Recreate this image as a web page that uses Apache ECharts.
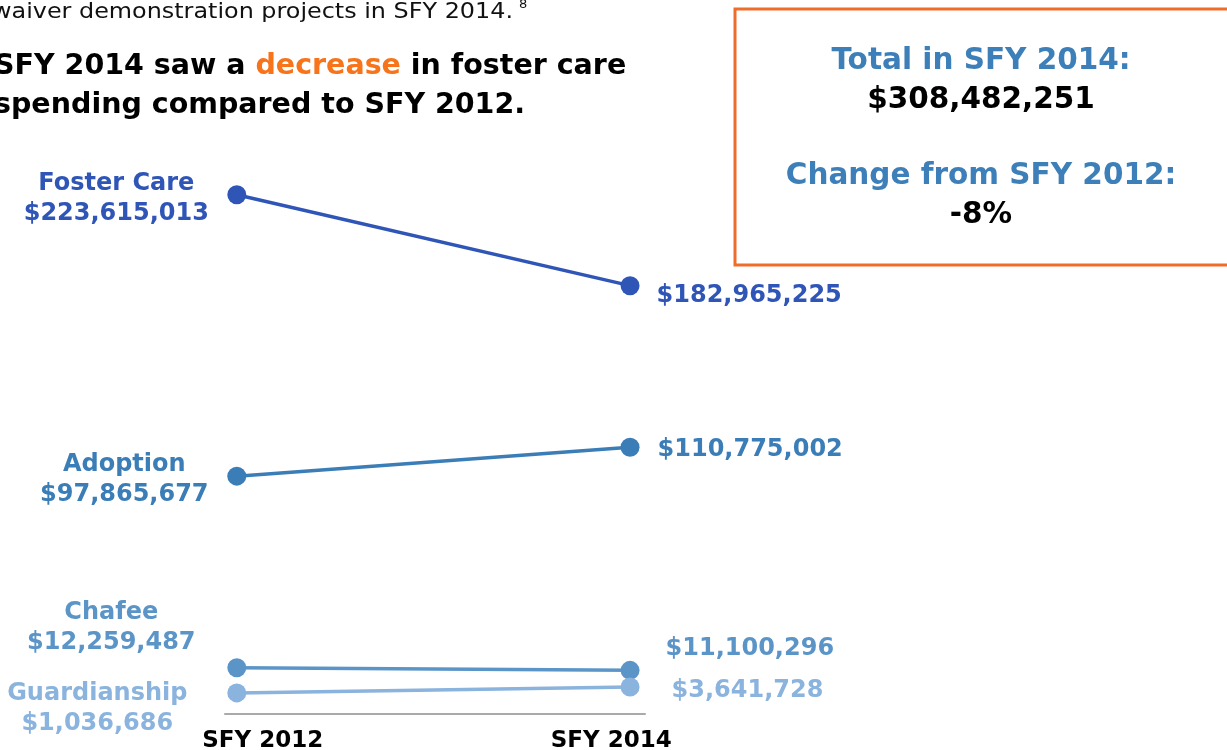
<!DOCTYPE html>
<html>
<head>
<meta charset="utf-8">
<script src="https://cdn.jsdelivr.net/npm/echarts@6/dist/echarts.min.js"></script>
<style>
  html, body { margin: 0; padding: 0; background: #fff; }
  #chart { width: 1227px; height: 750px; }
</style>
</head>
<body>
<div id="chart"></div>
<script>
// spending by program, SFY 2012 vs SFY 2014
var years = ['SFY 2012', 'SFY 2014']
var programs = ['Foster Care', 'Adoption', 'Chafee', 'Guardianship']
var fosterCare = [223615013, 182965225]
var adoption = [97865677, 110775002]
var chafee = [12259487, 11100296]
var guardianship = [1036686, 3641728]
var totalText = '$308,482,251'
var changeText = '-8%'

var colors = ['#2f55b6', '#3b7db6', '#5b95c8', '#8ab3de']
// label tweaks per program: [left distance, left dy, right distance, right dy]
var labelPos = [
    [111, 4, 17, 10],
    [103, 4, 18, 3],
    [116, -40, 26, -22],
    [130, 16, 32, 4]
]

function money(v) {
    return '$' + String(v).replace(/\B(?=(\d{3})+(?!\d))/g, ',')
}

var values = [fosterCare, adoption, chafee, guardianship]
var series = []
values.forEach(function (vals, i) {
    var p = labelPos[i]
    series.push({
        name: programs[i],
        type: 'line',
        symbol: 'circle',
        symbolSize: 19,
        lineStyle: {width: 3.5, color: colors[i]},
        itemStyle: {color: colors[i]},
        emphasis: {disabled: true},
        data: [
            {
                value: [0, vals[0]],
                label: {
                    show: true, position: 'left', distance: p[0], offset: [0, p[1]],
                    align: 'center', verticalAlign: 'middle', lineHeight: 30,
                    formatter: programs[i] + '\n' + money(vals[0])
                }
            },
            {
                value: [1, vals[1]],
                label: {
                    show: true, position: 'right', distance: p[2], offset: [0, p[3]],
                    align: 'left', verticalAlign: 'middle',
                    formatter: money(vals[1])
                }
            }
        ],
        label: {
            color: colors[i],
            fontFamily: 'DejaVu Sans',
            fontWeight: 'bold',
            fontSize: 24
        }
    })
})

var chart = echarts.init(document.getElementById('chart'))
chart.setOption({
    backgroundColor: '#fff',
    animation: false,
    grid: {left: 225, right: 582, top: 158, bottom: 36, outerBoundsMode: 'none'},
    xAxis: {
        type: 'value',
        min: -0.03,
        max: 1.038,
        axisLine: {show: true, onZero: false, lineStyle: {color: '#aaaaaa', width: 2}},
        axisTick: {show: false},
        splitLine: {show: false},
        axisLabel: {
            show: true,
            customValues: [0.066, 0.952],
            margin: 16,
            color: '#000',
            fontFamily: 'DejaVu Sans',
            fontWeight: 'bold',
            fontSize: 23,
            formatter: function (v) {
                return v < 0.5 ? years[0] : years[1]
            }
        }
    },
    yAxis: {
        type: 'value',
        min: -8400000,
        max: 240000000,
        show: false
    },
    graphic: [
        {
            type: 'text', x: -8, y: 12, scaleX: 1.085,
            style: {
                text: 'waiver demonstration projects in SFY 2014.', verticalAlign: 'middle',
                fontFamily: 'DejaVu Sans', fontSize: 22, fill: '#111'
            }
        },
        {
            type: 'text', x: 519, y: 5,
            style: {text: '8', verticalAlign: 'middle', fontFamily: 'DejaVu Sans', fontSize: 13, fill: '#111'}
        },
        {
            type: 'text', left: -6, top: 52,
            style: {
                text: '{b|SFY 2014 saw a }{o|decrease}{b| in foster care}\n{b|spending compared to SFY 2012.}',
                rich: {
                    b: {fontFamily: 'DejaVu Sans', fontWeight: 'bold', fontSize: 28.5, fill: '#000', lineHeight: 39},
                    o: {fontFamily: 'DejaVu Sans', fontWeight: 'bold', fontSize: 28.5, fill: '#f7741b', lineHeight: 39}
                }
            }
        },
        {
            type: 'rect',
            shape: {x: 735, y: 9, width: 520, height: 256},
            style: {fill: '#fff', stroke: '#ef6c2a', lineWidth: 3}
        },
        {
            type: 'text', x: 981, y: 61,
            style: {
                text: 'Total in SFY 2014:', align: 'center', verticalAlign: 'middle',
                fontFamily: 'DejaVu Sans', fontWeight: 'bold', fontSize: 29.5, fill: '#3d7fb8'
            }
        },
        {
            type: 'text', x: 981, y: 100,
            style: {
                text: totalText, align: 'center', verticalAlign: 'middle',
                fontFamily: 'DejaVu Sans', fontWeight: 'bold', fontSize: 29.5, fill: '#000'
            }
        },
        {
            type: 'text', x: 981, y: 176,
            style: {
                text: 'Change from SFY 2012:', align: 'center', verticalAlign: 'middle',
                fontFamily: 'DejaVu Sans', fontWeight: 'bold', fontSize: 29.5, fill: '#3d7fb8'
            }
        },
        {
            type: 'text', x: 981, y: 215,
            style: {
                text: changeText, align: 'center', verticalAlign: 'middle',
                fontFamily: 'DejaVu Sans', fontWeight: 'bold', fontSize: 29.5, fill: '#000'
            }
        }
    ],
    series: series
})
</script>
</body>
</html>
